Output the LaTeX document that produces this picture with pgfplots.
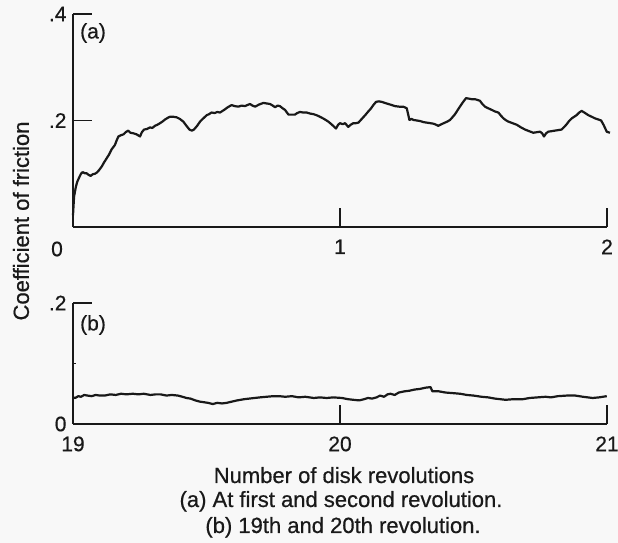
\documentclass[border=0pt]{standalone}
\usepackage{fontspec}
\setmainfont{Liberation Sans}[FakeBold=0.6]
\usepackage{pgfplots}
\pgfplotsset{compat=1.18}
\definecolor{ink}{RGB}{25,25,25}
\definecolor{paper}{RGB}{248,248,248}
\pgfplotsset{panel/.style={
  scale only axis, clip=false,
  axis x line*=bottom, axis y line*=left,
  tick align=inside, major tick length=19pt, minor tick length=3pt,
  axis line style={ink, line width=1.6pt},
  tick style={ink, line width=1.4pt},
  tick label style={font=\fontsize{21}{24}\selectfont, text=ink},
  /pgf/number format/assume math mode=true,
  yticklabel style={xshift=-3pt},
  xticklabel style={yshift=-9pt},
}}
\begin{document}
\begin{tikzpicture}[x=1pt,y=1pt]
\useasboundingbox (0,0) rectangle (618,543);
\fill[paper] (0,0) rectangle (618,543);

\begin{axis}[panel, at={(73pt,316pt)}, anchor=south west,
  width=534pt, height=213pt,
  xmin=0, xmax=2, ymin=0, ymax=0.4,
  xtick={1,2}, xticklabels={1,2},
  ytick={0.2,0.4}, yticklabels={.2,.4}]
\addplot[ink, line width=2.2pt, line join=round, no markers] table {
0.000 0.022
0.002 0.040
0.004 0.057
0.008 0.068
0.011 0.076
0.016 0.085
0.024 0.094
0.030 0.100
0.036 0.103
0.044 0.101
0.051 0.101
0.058 0.098
0.066 0.096
0.074 0.099
0.082 0.100
0.089 0.102
0.098 0.107
0.107 0.113
0.116 0.121
0.126 0.129
0.135 0.136
0.145 0.146
0.151 0.150
0.157 0.154
0.163 0.162
0.170 0.170
0.178 0.172
0.189 0.174
0.197 0.178
0.207 0.181
0.215 0.177
0.226 0.176
0.238 0.174
0.251 0.170
0.258 0.178
0.266 0.183
0.277 0.184
0.288 0.187
0.297 0.186
0.307 0.190
0.316 0.192
0.326 0.195
0.335 0.198
0.345 0.202
0.355 0.205
0.363 0.207
0.376 0.207
0.388 0.206
0.400 0.203
0.413 0.198
0.425 0.190
0.436 0.183
0.445 0.181
0.453 0.183
0.465 0.190
0.476 0.198
0.488 0.204
0.501 0.210
0.510 0.212
0.519 0.215
0.530 0.214
0.541 0.216
0.551 0.215
0.560 0.218
0.569 0.221
0.580 0.225
0.594 0.229
0.606 0.227
0.619 0.226
0.632 0.228
0.644 0.227
0.653 0.229
0.663 0.231
0.672 0.228
0.682 0.226
0.697 0.230
0.713 0.233
0.725 0.232
0.738 0.231
0.748 0.228
0.757 0.225
0.766 0.228
0.775 0.227
0.785 0.223
0.794 0.220
0.807 0.211
0.820 0.211
0.831 0.211
0.840 0.214
0.850 0.216
0.862 0.215
0.875 0.215
0.888 0.213
0.900 0.212
0.912 0.210
0.925 0.207
0.940 0.203
0.956 0.198
0.970 0.192
0.985 0.185
0.993 0.192
1.000 0.195
1.010 0.193
1.019 0.195
1.031 0.188
1.040 0.192
1.050 0.195
1.060 0.195
1.069 0.196
1.078 0.201
1.087 0.206
1.096 0.211
1.106 0.217
1.115 0.222
1.125 0.229
1.135 0.235
1.146 0.236
1.156 0.235
1.168 0.233
1.181 0.231
1.194 0.229
1.206 0.227
1.222 0.226
1.237 0.226
1.250 0.223
1.255 0.212
1.260 0.201
1.268 0.203
1.275 0.201
1.288 0.200
1.300 0.199
1.312 0.197
1.325 0.196
1.338 0.195
1.350 0.194
1.360 0.192
1.368 0.190
1.380 0.193
1.393 0.196
1.402 0.198
1.412 0.201
1.421 0.206
1.431 0.212
1.440 0.219
1.449 0.226
1.460 0.234
1.472 0.242
1.483 0.241
1.493 0.240
1.506 0.240
1.518 0.238
1.524 0.237
1.533 0.231
1.543 0.226
1.555 0.223
1.568 0.220
1.580 0.217
1.593 0.215
1.603 0.209
1.612 0.204
1.620 0.201
1.630 0.198
1.646 0.195
1.662 0.192
1.678 0.187
1.693 0.183
1.708 0.180
1.724 0.177
1.737 0.178
1.749 0.179
1.757 0.176
1.764 0.170
1.772 0.176
1.780 0.179
1.793 0.180
1.805 0.181
1.818 0.182
1.830 0.183
1.840 0.188
1.849 0.193
1.858 0.199
1.868 0.204
1.877 0.207
1.886 0.210
1.896 0.215
1.905 0.218
1.918 0.214
1.930 0.210
1.943 0.207
1.955 0.204
1.967 0.202
1.978 0.200
1.988 0.191
1.999 0.179
2.011 0.177
};
\end{axis}

\begin{axis}[panel, at={(73pt,119pt)}, anchor=south west,
  width=534pt, height=121pt,
  xmin=19, xmax=21, ymin=0, ymax=0.2,
  xtick={19,20,21}, xticklabels={19,20,21},
  ytick={0,0.2}, yticklabels={0,.2},
  minor ytick={0.1}]
\addplot[ink, line width=2.2pt, line join=round, no markers] table {
19.000 0.044
19.008 0.043
19.020 0.046
19.030 0.045
19.042 0.048
19.054 0.047
19.070 0.046
19.085 0.048
19.100 0.047
19.119 0.047
19.140 0.049
19.160 0.048
19.180 0.050
19.200 0.049
19.224 0.050
19.245 0.049
19.265 0.050
19.290 0.048
19.310 0.049
19.328 0.049
19.350 0.047
19.370 0.048
19.393 0.047
19.410 0.045
19.425 0.043
19.440 0.042
19.458 0.039
19.475 0.037
19.490 0.036
19.505 0.035
19.524 0.033
19.540 0.035
19.558 0.034
19.576 0.035
19.595 0.037
19.615 0.039
19.641 0.041
19.660 0.042
19.680 0.043
19.700 0.044
19.725 0.045
19.750 0.046
19.772 0.046
19.795 0.045
19.820 0.046
19.845 0.044
19.870 0.045
19.902 0.043
19.925 0.044
19.950 0.043
19.975 0.044
20.007 0.043
20.030 0.041
20.050 0.040
20.072 0.039
20.090 0.041
20.105 0.043
20.120 0.042
20.137 0.044
20.150 0.047
20.165 0.045
20.178 0.049
20.189 0.050
20.205 0.048
20.220 0.052
20.242 0.054
20.260 0.055
20.280 0.057
20.300 0.058
20.320 0.060
20.339 0.061
20.346 0.054
20.370 0.054
20.395 0.052
20.424 0.051
20.450 0.050
20.475 0.048
20.500 0.047
20.530 0.045
20.555 0.044
20.580 0.042
20.600 0.041
20.620 0.040
20.650 0.041
20.685 0.041
20.710 0.043
20.740 0.044
20.770 0.045
20.790 0.044
20.816 0.046
20.850 0.047
20.881 0.047
20.910 0.045
20.946 0.043
20.970 0.044
20.999 0.046
};
\end{axis}

\node[text=ink, font=\fontsize{21}{24}\selectfont] at (57,294) {0};
\node[text=ink, font=\fontsize{21}{24}\selectfont] at (93,510) {(a)};
\node[text=ink, font=\fontsize{21}{24}\selectfont] at (93,218) {(b)};
\node[text=ink, rotate=90, font=\fontsize{22}{26}\selectfont] at (21,322) {Coefficient of friction};
\node[text=ink, anchor=base, font=\fontsize{22}{26}\selectfont] at (344,60) {Number of disk revolutions};
\node[text=ink, anchor=base, font=\fontsize{22}{26}\selectfont] at (341,36) {(a) At first and second revolution.};
\node[text=ink, anchor=base, font=\fontsize{22}{26}\selectfont] at (343,10) {(b) 19th and 20th revolution.};
\end{tikzpicture}
\end{document}
